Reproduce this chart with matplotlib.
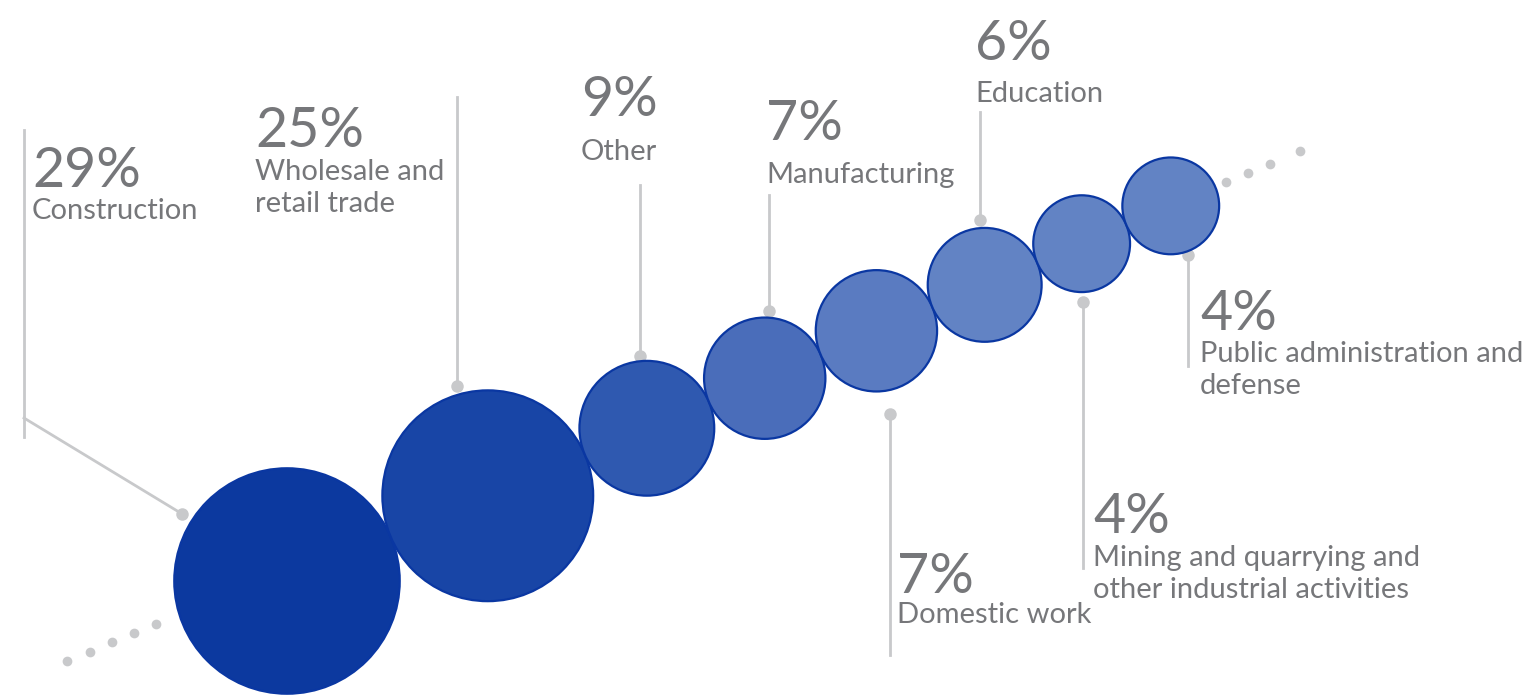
import numpy as np
import matplotlib.pyplot as plt
from matplotlib.patches import Circle

plt.rcParams['font.family'] = ['Lato', 'DejaVu Sans']

# employment share by sector, in the order the bubbles are chained
sectors = [
    ["Construction"],
    ["Wholesale and", "retail trade"],
    ["Other"],
    ["Manufacturing"],
    ["Domestic work"],
    ["Education"],
    ["Mining and quarrying and", "other industrial activities"],
    ["Public administration and", "defense"],
]
shares = [29, 25, 9, 7, 7, 6, 4, 4]

fills = ["#0c399f", "#1845a6", "#2f59b0", "#4a6dba", "#5a7bc1", "#6283c4", "#6283c4", "#6283c4"]
EDGE = "#0a37a2"
GREY_TXT = "#76777a"
GREY_LN = "#c8c9cb"

# label layout: leader x, text x, pct baseline, first label baseline,
# far end of the leader, side of the bubble the leader leaves from
layout = [
    dict(lx=24, tx=32, pct=187, lab=219, end=130, side="top"),
    dict(lx=457, tx=255, pct=147, lab=180, end=97, side="top"),
    dict(lx=640, tx=581, pct=116, lab=160, end=185, side="top"),
    dict(lx=769, tx=766, pct=140, lab=183, end=195, side="top"),
    dict(lx=890, tx=897, pct=593, lab=623, end=655, side="bottom"),
    dict(lx=980, tx=975, pct=60, lab=102, end=112, side="top"),
    dict(lx=1083, tx=1093, pct=533, lab=566, end=568, side="bottom"),
    dict(lx=1188, tx=1200, pct=330, lab=362, end=366, side="bottom"),
]
dot_gap = [12, 9, 5, 7, 24, 8, 10, 4]
tail_lo = [(156, 624), (134, 633), (112, 642), (90, 652), (67, 661)]
tail_hi = [(1226, 182), (1248, 173), (1270, 164), (1300, 151)]


def radius(v):
    return 10.4 + 19.0 * np.sqrt(v)


fig = plt.figure(figsize=(15.29, 7), dpi=100)
ax = fig.add_axes([0, 0, 1, 1])
ax.set_xlim(0, 1529)
ax.set_ylim(700, 0)
ax.axis("off")

# chain the bubbles so each one touches the previous along a rising line
ang = np.deg2rad(23.0)
radii = [radius(v) for v in shares]
cx, cy = [287.0], [581.0]
for i in range(1, len(radii)):
    d = radii[i - 1] + radii[i]
    cx.append(cx[-1] + d * np.cos(ang))
    cy.append(cy[-1] - d * np.sin(ang))

for x, y, r, c in zip(cx, cy, radii, fills):
    ax.add_patch(Circle((x, y), r, facecolor=c, edgecolor=EDGE, lw=1.6, zorder=3))

# trailing dots at both ends of the chain
for x, y in tail_lo + tail_hi:
    ax.plot(x, y, "o", color=GREY_LN, ms=7, mec="none", zorder=2)

for i, (lines, v, L) in enumerate(zip(sectors, shares, layout)):
    r = radii[i] + dot_gap[i]
    if i == 0:
        # construction: elbow leader coming in from the left margin
        a = np.deg2rad(212.6)
        dx, dy = cx[i] + r * np.cos(a), cy[i] + r * np.sin(a)
        ax.plot([L["lx"], L["lx"]], [L["end"], 437], color=GREY_LN, lw=2, zorder=1)
        ax.plot([L["lx"], dx], [418, dy], color=GREY_LN, lw=2, zorder=1)
    else:
        off = L["lx"] - cx[i]
        h = np.sqrt(max(r * r - off * off, 0))
        dx = L["lx"]
        dy = cy[i] - h if L["side"] == "top" else cy[i] + h
        ax.plot([dx, dx], [L["end"], dy], color=GREY_LN, lw=2, zorder=1)
    ax.plot(dx, dy, "o", color=GREY_LN, ms=9, mec="none", zorder=2)

    ax.text(L["tx"], L["pct"], f"{v}%", fontsize=40, color=GREY_TXT, va="baseline", ha="left")
    for j, s in enumerate(lines):
        ax.text(L["tx"], L["lab"] + 32 * j, s, fontsize=21, color=GREY_TXT,
                va="baseline", ha="left")

fig.savefig("out.png", dpi=100, facecolor="white")
